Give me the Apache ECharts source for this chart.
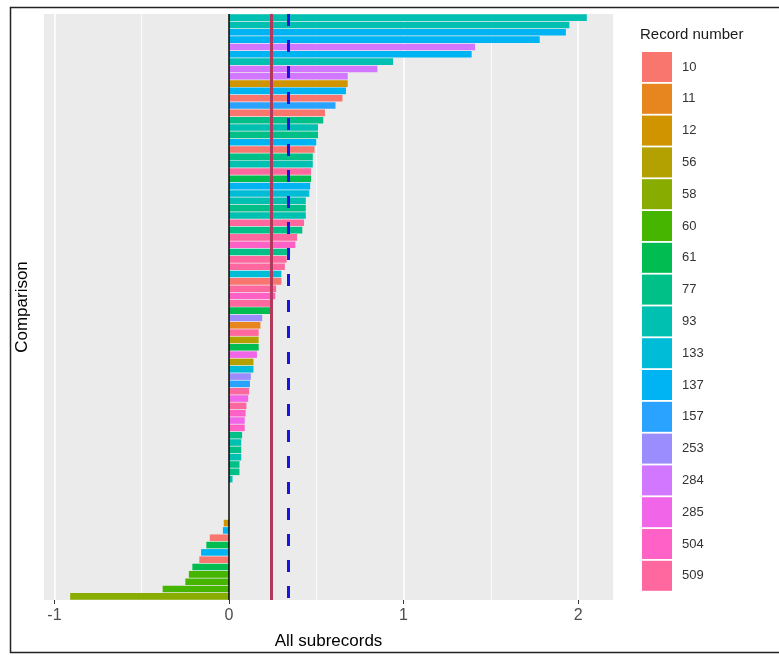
<!DOCTYPE html>
<html>
<head>
<meta charset="utf-8">
<script src="https://cdn.jsdelivr.net/npm/echarts@6/dist/echarts.min.js"></script>
<style>
  html, body { margin: 0; padding: 0; background: #fff; }
  #chart { width: 779px; height: 660px; }
</style>
</head>
<body>
<div id="chart"></div>
<script>
// legend levels, in order
const recordNumbers = ['10', '11', '12', '56', '58', '60', '61', '77', '93', '133', '137', '157', '253', '284', '285', '504', '509'];
const recordColors = ['#F8766D', '#E7851E', '#D09400', '#B2A100', '#89AC00', '#45B500', '#00BC51', '#00C087', '#00C0B2',
  '#00BCD6', '#00B3F2', '#29A3FF', '#9C8DFF', '#D277FF', '#F166E8', '#FF61C7', '#FF689E'];

// one bar per comparison, top to bottom
const comparisonValues = [
  2.05, 1.95, 1.93, 1.78, 1.41, 1.39, 0.94, 0.85, 0.68, 0.68,
  0.67, 0.65, 0.61, 0.55, 0.54, 0.51, 0.51, 0.50, 0.49, 0.48,
  0.48, 0.47, 0.47, 0.465, 0.46, 0.44, 0.44, 0.44, 0.43, 0.42,
  0.39, 0.38, 0.35, 0.33, 0.32, 0.30, 0.30, 0.27, 0.265, 0.25,
  0.24, 0.19, 0.18, 0.17, 0.17, 0.17, 0.16, 0.14, 0.14, 0.125,
  0.12, 0.115, 0.11, 0.10, 0.095, 0.09, 0.09, 0.075, 0.07, 0.07,
  0.07, 0.06, 0.06, 0.02, 0, 0, 0, 0, 0, -0.03,
  -0.035, -0.11, -0.13, -0.16, -0.17, -0.21, -0.23, -0.25, -0.38, -0.91
];
const comparisonRecords = [
  '93', '93', '137', '137', '284', '137', '93', '284', '284', '12',
  '137', '10', '157', '10', '77', '93', '77', '137', '10', '77',
  '93', '509', '61', '137', '133', '93', '77', '93', '509', '77',
  '509', '504', '77', '509', '509', '133', '10', '509', '504', '509',
  '61', '253', '11', '509', '56', '61', '285', '56', '133', '253',
  '157', '509', '285', '509', '504', '285', '504', '77', '93', '77',
  '93', '77', '77', '93', '93', '93', '93', '93', '93', '12',
  '137', '10', '61', '137', '10', '61', '60', '60', '60', '58'
];
const comparisons = comparisonValues.map((v, i) => 'C' + (i + 1));

const xTicks = [-1, 0, 1, 2];
const xMinorGrid = [-0.5, 0.5, 1.5];
const zeroLine = 0;
const meanLine = 0.24;
const dashLine = 0.34;

const chart = echarts.init(document.getElementById('chart'), null, { renderer: 'canvas' });

const FONT = '"Liberation Sans", Arial, sans-serif';

const barSeries = recordNumbers.map((rec, k) => ({
  name: rec,
  type: 'bar',
  stack: 'all',
  color: recordColors[k],
  barCategoryGap: '10%',
  z: 2,
  data: comparisonValues.map((v, i) => comparisonRecords[i] === rec ? v : '-')
}));

// white panel grid lines, kept under the bars
const gridLines = {
  name: 'grid',
  type: 'line',
  data: [],
  z: 1,
  silent: true,
  markLine: {
    z: 1,
    silent: true,
    symbol: ['none', 'none'],
    label: { show: false },
    animation: false,
    data: xTicks.map(v => ({ xAxis: v, lineStyle: { color: '#fff', width: 1.6, type: 'solid' } }))
      .concat(xMinorGrid.map(v => ({ xAxis: v, lineStyle: { color: '#fff', width: 0.8, type: 'solid' } })))
  }
};

const refLines = {
  name: 'ref',
  type: 'line',
  data: [],
  z: 10,
  silent: true,
  markLine: {
    z: 10,
    silent: true,
    symbol: ['none', 'none'],
    label: { show: false },
    animation: false,
    data: [
      { xAxis: zeroLine, lineStyle: { color: '#000', width: 1.5, type: 'solid' } },
      { xAxis: meanLine, lineStyle: { color: '#B03A5B', width: 3, type: 'solid' } },
      { xAxis: dashLine, lineStyle: { color: '#1616E0', width: 3, type: [12, 14] } }
    ]
  }
};

chart.setOption({
  animation: false,
  textStyle: { fontFamily: FONT },
  title: {
    text: 'Record number',
    left: 640,
    top: 27,
    padding: 0,
    textStyle: { fontFamily: FONT, fontSize: 15, fontWeight: 'normal', color: '#1a1a1a' }
  },
  legend: {
    data: recordNumbers,
    orient: 'vertical',
    left: 642,
    top: 52,
    padding: 0,
    itemWidth: 30,
    itemHeight: 30,
    itemGap: 1.8,
    icon: 'rect',
    selectedMode: false,
    textStyle: { fontFamily: FONT, fontSize: 13, color: '#333', padding: [0, 0, 0, 5] }
  },
  grid: {
    left: 44,
    right: 166,
    top: 14,
    bottom: 60,
    show: true,
    backgroundColor: '#EBEBEB',
    borderWidth: 0
  },
  xAxis: {
    type: 'value',
    min: -1.06,
    max: 2.2,
    name: 'All subrecords',
    nameLocation: 'middle',
    nameGap: 33,
    nameTextStyle: { fontFamily: FONT, fontSize: 17, color: '#000' },
    axisLine: { show: false },
    splitLine: { show: false },
    axisTick: { show: true, customValues: xTicks, length: 4, lineStyle: { color: '#333', width: 1 } },
    axisLabel: { customValues: xTicks, margin: 8, fontFamily: FONT, fontSize: 16, color: '#4D4D4D' }
  },
  yAxis: {
    type: 'category',
    data: comparisons,
    inverse: true,
    name: 'Comparison',
    nameLocation: 'middle',
    nameRotate: 90,
    nameGap: 13,
    nameTextStyle: { fontFamily: FONT, fontSize: 17, color: '#000' },
    axisLine: { show: false },
    axisTick: { show: false },
    axisLabel: { show: false },
    splitLine: { show: false }
  },
  graphic: [{
    type: 'rect',
    silent: true,
    shape: { x: 10.5, y: 7.5, width: 790, height: 645 },
    style: { fill: 'none', stroke: '#222', lineWidth: 1.5 },
    z: 100
  }],
  series: [gridLines].concat(barSeries, [refLines])
});
</script>
</body>
</html>
